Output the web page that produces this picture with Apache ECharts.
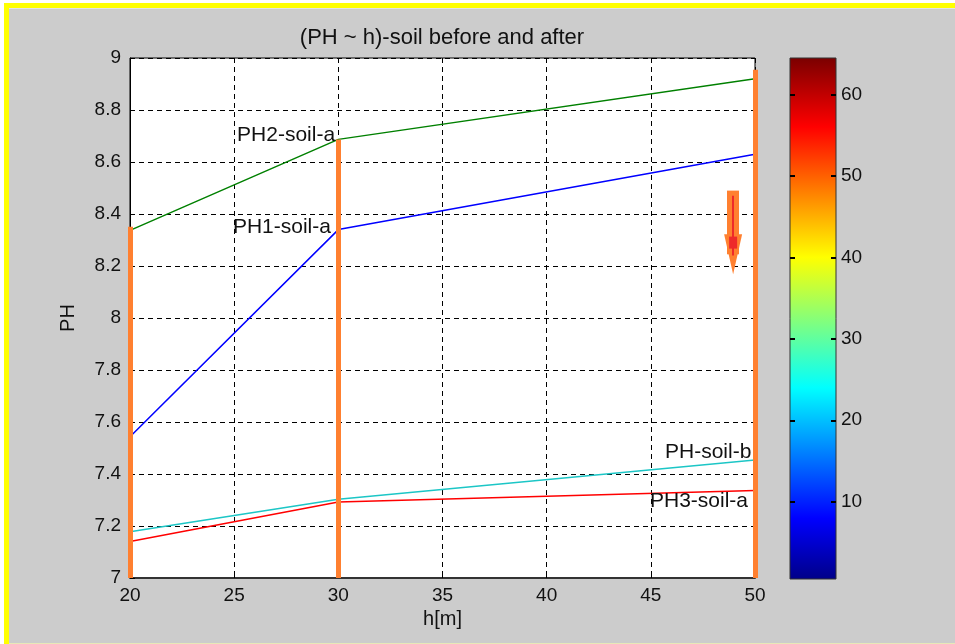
<!DOCTYPE html>
<html>
<head>
<meta charset="utf-8">
<title>(PH ~ h)-soil before and after</title>
<script src="https://cdn.jsdelivr.net/npm/echarts@6/dist/echarts.min.js"></script>
<style>
  html, body { margin: 0; padding: 0; background: #fff; }
  #chart { position: absolute; left: 0; top: 0; width: 955px; height: 644px; }
  .frame { position: absolute; pointer-events: none; }
</style>
</head>
<body>
<div id="chart"></div>
<!-- 外框：白边 + 黄边 -->
<div class="frame" style="left:0;top:0;width:955px;height:3px;background:#fff"></div>
<div class="frame" style="left:0;top:0;width:4px;height:644px;background:#fff"></div>
<div class="frame" style="left:4px;top:3px;width:951px;height:5px;background:#ffff00"></div>
<div class="frame" style="left:4px;top:3px;width:5px;height:641px;background:#ffff00"></div>
<div class="frame" style="left:9px;top:8px;width:946px;height:1px;background:#e4e4e4"></div>
<div class="frame" style="left:9px;top:643px;width:946px;height:1px;background:#e8e8b8"></div>
<script>
// 数据
const hValues = [20, 30, 50];
const ph2SoilA = [8.337, 8.687, 8.92];
const ph1SoilA = [7.543, 8.34, 8.63];
const phSoilB = [7.178, 7.303, 7.454];
const ph3SoilA = [7.14, 7.292, 7.337];

const seriesNames = ['PH2-soil-a', 'PH1-soil-a', 'PH-soil-b', 'PH3-soil-a'];
const seriesColors = ['#008000', '#0000ff', '#1cc6c6', '#ff0000'];
const seriesValues = [ph2SoilA, ph1SoilA, phSoilB, ph3SoilA];

// 文字标注位置
const labelH = [25.14, 24.94, 45.68, 44.96];
const labelPH = [8.704, 8.35, 7.485, 7.296];

// 橙色竖线
const markerH = [20, 30, 50];
const markerTop = [8.351, 8.687, 8.955];
const markerBottom = 7;

// 箭头
const arrowH = 48.95;
const arrowFrom = 8.49;
const arrowTo = 8.245;
const arrowInnerFrom = 8.47;
const arrowInnerTo = 8.24;
const arrowHeadPH = 8.29;

// 色条刻度
const colorbarTicks = [10, 20, 30, 40, 50, 60];
const colorbarMin = 0.5;
const colorbarMax = 64.5;

const font = "'Liberation Sans', Arial, sans-serif";
const textColor = '#111111';
const orange = '#ff8030';

const chart = echarts.init(document.getElementById('chart'));

const lineSeries = seriesValues.map((vals, i) => ({
  name: seriesNames[i],
  type: 'line',
  xAxisIndex: 0,
  yAxisIndex: 0,
  data: hValues.map((h, k) => [h, vals[k]]),
  showSymbol: false,
  symbol: 'none',
  lineStyle: { color: seriesColors[i], width: 1.5 },
  z: 3
}));

// jet colormap
const jet = new echarts.graphic.LinearGradient(0, 0, 0, 1, [
  { offset: 0, color: '#7a0000' },
  { offset: (colorbarMax - 56) / 64, color: '#ff0000' },
  { offset: (colorbarMax - 40) / 64, color: '#ffff00' },
  { offset: (colorbarMax - 24) / 64, color: '#00ffff' },
  { offset: (colorbarMax - 8) / 64, color: '#0000ff' },
  { offset: 1, color: '#000088' }
]);

const colorbarTick = {
  show: true, inside: true, length: 5, customValues: colorbarTicks,
  lineStyle: { color: '#000', width: 2 }
};

const option = {
  backgroundColor: '#cccccc',
  animation: false,
  textStyle: { fontFamily: font },
  title: {
    text: '(PH ~ h)-soil before and after',
    left: 437,
    top: 22,
    textAlign: 'center',
    textStyle: { fontFamily: font, fontSize: 22, fontWeight: 'normal', color: textColor }
  },
  grid: [
    {
      left: 130, right: 200, top: 58, bottom: 66,
      show: true, backgroundColor: '#ffffff', borderColor: '#000', borderWidth: 1
    },
    {
      left: 790, width: 46, top: 58, height: 521,
      show: true, backgroundColor: jet, borderColor: '#333', borderWidth: 1
    }
  ],
  xAxis: [
    {
      gridIndex: 0,
      type: 'value',
      min: 20, max: 50, interval: 5,
      name: 'h[m]',
      nameLocation: 'middle',
      nameGap: 31,
      nameTextStyle: { fontFamily: font, fontSize: 20, color: textColor },
      axisLine: { show: true, onZero: false, lineStyle: { color: '#333', width: 2 } },
      axisTick: { show: true, inside: true, length: 5, lineStyle: { color: '#000' } },
      axisLabel: { fontFamily: font, fontSize: 19, color: textColor, margin: 8 },
      splitLine: { show: true, lineStyle: { color: '#000', type: [5, 4], width: 1 } }
    },
    {
      gridIndex: 1,
      type: 'value',
      min: 0, max: 1,
      show: false
    }
  ],
  yAxis: [
    {
      gridIndex: 0,
      type: 'value',
      min: 7, max: 9, interval: 0.2,
      name: 'PH',
      nameLocation: 'middle',
      nameGap: 52,
      nameTextStyle: { fontFamily: font, fontSize: 20, color: textColor },
      axisLine: { show: true, onZero: false, lineStyle: { color: '#000', width: 1 } },
      axisTick: { show: true, inside: true, length: 5, lineStyle: { color: '#000' } },
      axisLabel: { fontFamily: font, fontSize: 19, color: textColor, margin: 9 },
      splitLine: { show: true, lineStyle: { color: '#000', type: [5, 4], width: 1 } }
    },
    {
      gridIndex: 1,
      type: 'value',
      position: 'right',
      min: colorbarMin, max: colorbarMax,
      axisLine: { show: false, onZero: false },
      axisTick: colorbarTick,
      axisLabel: { show: true, fontFamily: font, fontSize: 19, color: textColor, margin: 5, customValues: colorbarTicks },
      splitLine: { show: false }
    },
    {
      gridIndex: 1,
      type: 'value',
      position: 'left',
      min: colorbarMin, max: colorbarMax,
      axisLine: { show: false, onZero: false },
      axisTick: colorbarTick,
      axisLabel: { show: false },
      splitLine: { show: false }
    }
  ],
  series: [
    ...lineSeries,
    // 曲线文字
    {
      type: 'scatter',
      xAxisIndex: 0,
      yAxisIndex: 0,
      symbolSize: 0,
      data: seriesNames.map((n, i) => ({ name: n, value: [labelH[i], labelPH[i]] })),
      label: {
        show: true,
        position: 'right',
        distance: 0,
        formatter: (p) => p.name,
        fontFamily: font,
        fontSize: 21,
        color: textColor,
        opacity: 1
      },
      z: 4
    },
    // 橙色竖线
    {
      type: 'line',
      xAxisIndex: 0,
      yAxisIndex: 0,
      data: [],
      z: 5,
      markLine: {
        silent: true,
        symbol: ['none', 'none'],
        label: { show: false },
        lineStyle: { color: orange, width: 5, type: 'solid', opacity: 1 },
        data: markerH.map((h, i) => [
          { coord: [h, markerBottom] },
          { coord: [h, markerTop[i]] }
        ])
      }
    },
    // 箭头
    {
      type: 'line',
      xAxisIndex: 0,
      yAxisIndex: 0,
      data: [],
      z: 6,
      markLine: {
        silent: true,
        symbol: ['none', 'triangle'],
        symbolSize: [18, 40],
        label: { show: false },
        lineStyle: { color: orange, width: 12, type: 'solid', opacity: 1 },
        data: [[{ coord: [arrowH, arrowFrom] }, { coord: [arrowH, arrowTo] }]]
      }
    },
    {
      type: 'line',
      xAxisIndex: 0,
      yAxisIndex: 0,
      data: [],
      z: 7,
      markLine: {
        silent: true,
        symbol: ['none', 'none'],
        label: { show: false },
        lineStyle: { color: '#ee2a2a', width: 2, type: 'solid', opacity: 1 },
        data: [[{ coord: [arrowH, arrowInnerFrom] }, { coord: [arrowH, arrowInnerTo] }]]
      },
      markPoint: {
        silent: true,
        symbol: 'rect',
        symbolSize: [8, 12],
        itemStyle: { color: '#ee2a2a' },
        label: { show: false },
        data: [{ coord: [arrowH, arrowHeadPH] }]
      }
    }
  ]
};

chart.setOption(option);
</script>
</body>
</html>
